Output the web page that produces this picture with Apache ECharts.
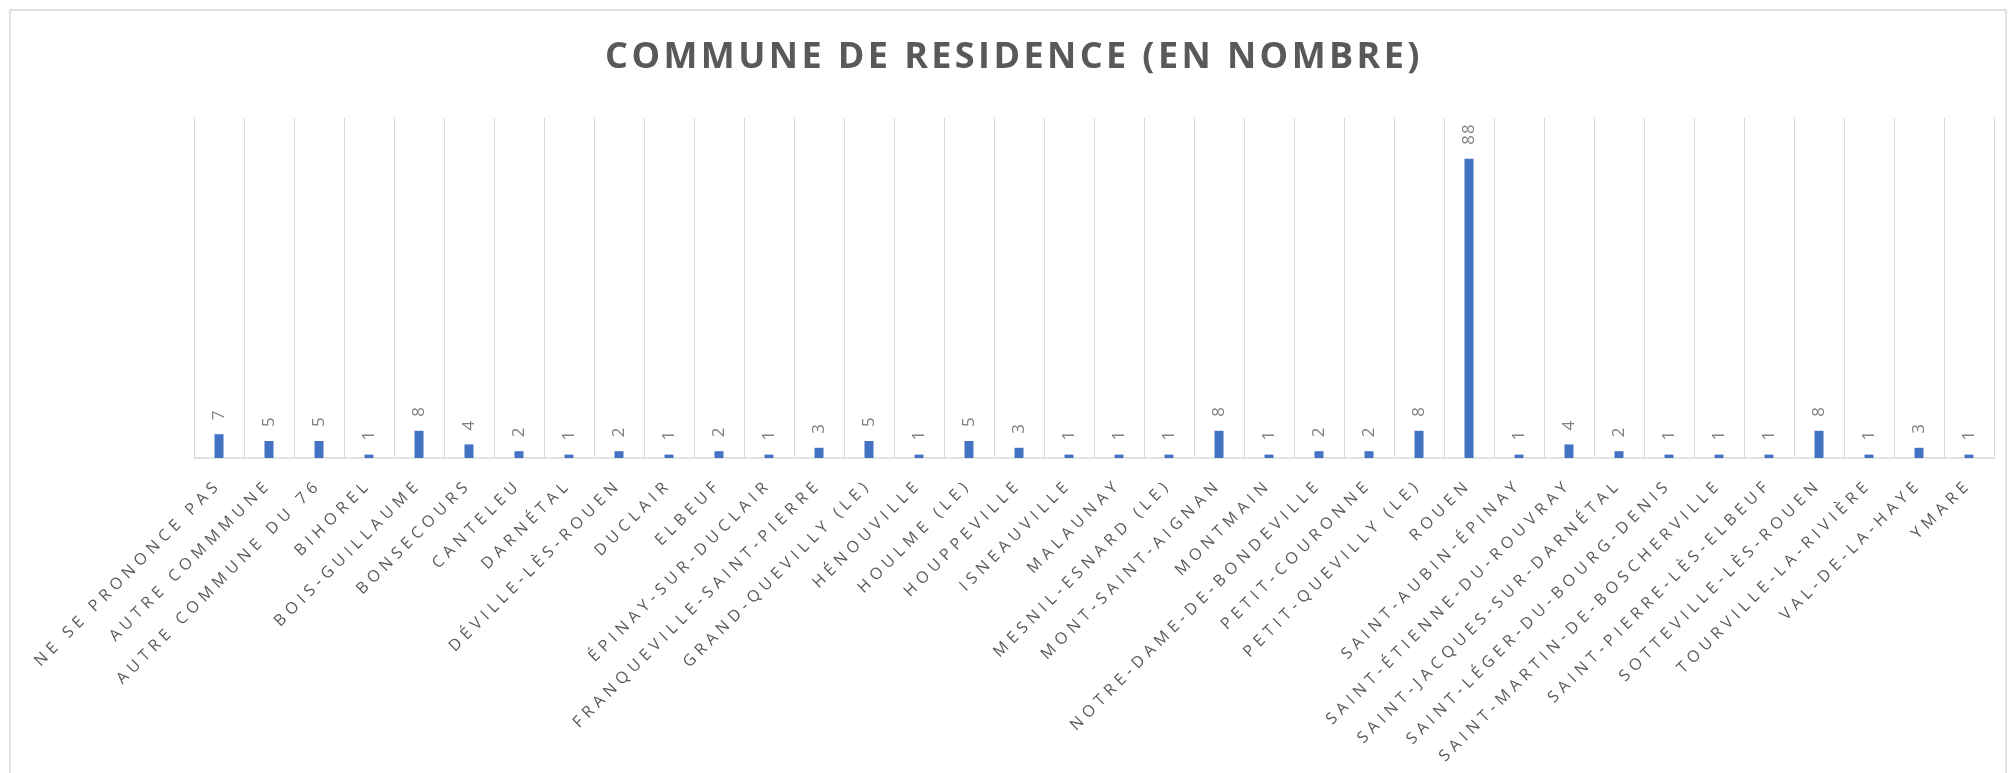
<!DOCTYPE html>
<html>
<head>
<meta charset="utf-8">
<title>Commune de residence</title>
<script src="https://cdn.jsdelivr.net/npm/echarts@6/dist/echarts.min.js"></script>
<style>
    html, body { margin: 0; padding: 0; background: #fff; }
    #chart { width: 2011px; height: 773px; }
</style>
</head>
<body>
<div id="chart"></div>
<script>
    // communes (texte tel qu'affiche, en capitales)
    var communes = [
        'NE SE PRONONCE PAS', 'AUTRE COMMMUNE', 'AUTRE COMMUNE DU 76', 'BIHOREL',
        'BOIS-GUILLAUME', 'BONSECOURS', 'CANTELEU', 'DARNÉTAL', 'DÉVILLE-LÈS-ROUEN',
        'DUCLAIR', 'ELBEUF', 'ÉPINAY-SUR-DUCLAIR', 'FRANQUEVILLE-SAINT-PIERRE',
        'GRAND-QUEVILLY (LE)', 'HÉNOUVILLE', 'HOULME (LE)', 'HOUPPEVILLE',
        'ISNEAUVILLE', 'MALAUNAY', 'MESNIL-ESNARD (LE)', 'MONT-SAINT-AIGNAN',
        'MONTMAIN', 'NOTRE-DAME-DE-BONDEVILLE', 'PETIT-COURONNE', 'PETIT-QUEVILLY (LE)',
        'ROUEN', 'SAINT-AUBIN-ÉPINAY', 'SAINT-ÉTIENNE-DU-ROUVRAY', 'SAINT-JACQUES-SUR-DARNÉTAL',
        'SAINT-LÉGER-DU-BOURG-DENIS', 'SAINT-MARTIN-DE-BOSCHERVILLE', 'SAINT-PIERRE-LÈS-ELBEUF',
        'SOTTEVILLE-LÈS-ROUEN', 'TOURVILLE-LA-RIVIÈRE', 'VAL-DE-LA-HAYE', 'YMARE'
    ];
    var nombre = [
        7, 5, 5, 1, 8, 4, 2, 1, 2, 1, 2, 1, 3, 5, 1, 5, 3, 1,
        1, 1, 8, 1, 2, 2, 8, 88, 1, 4, 2, 1, 1, 1, 8, 1, 3, 1
    ];
    var titre = 'COMMUNE DE RESIDENCE (EN NOMBRE)';

    var chart = echarts.init(document.getElementById('chart'), null, {renderer: 'canvas'});

    var option = {
        animation: false,
        backgroundColor: '#fff',
        graphic: [
            {
                type: 'rect',
                zlevel: 0,
                shape: {x: 10, y: 10, width: 1996, height: 800},
                style: {fill: 'none', stroke: '#d9d9d9', lineWidth: 1.5},
                silent: true
            },
            {
                type: 'text',
                zlevel: 2,
                x: 1014,
                y: 58,
                style: {
                    text: titre,
                    fill: '#595959',
                    font: 'bold 36px "Open Sans"',
                    align: 'center',
                    verticalAlign: 'middle'
                }
            }
        ],
        grid: {left: 194, right: 17, top: 118, bottom: 315, containLabel: false},
        xAxis: {
            type: 'category',
            data: communes,
            zlevel: 0,
            axisLine: {lineStyle: {color: '#d9d9d9', width: 1.5}},
            axisTick: {show: false},
            splitLine: {show: true, lineStyle: {color: '#d9d9d9', width: 1}},
            axisLabel: {
                interval: 0,
                rotate: 45,
                margin: 24,
                color: '#595959',
                fontFamily: 'Open Sans',
                fontSize: 16,
                hideOverlap: false
            }
        },
        yAxis: {
            type: 'value',
            min: 0,
            max: 100,
            zlevel: 0,
            show: false,
            splitLine: {show: false}
        },
        series: [{
            type: 'bar',
            zlevel: 1,
            data: nombre,
            barWidth: 9,
            itemStyle: {color: '#4472c4'},
            label: {
                show: true,
                position: 'top',
                rotate: 90,
                align: 'left',
                verticalAlign: 'middle',
                distance: 14,
                color: '#7f7f7f',
                fontFamily: 'Open Sans',
                fontSize: 17
            }
        }]
    };
    chart.setOption(option);

    // espacement des lettres comme dans Excel : par calque canvas
    var spacing = {zr_0: '5px', zr_1: '1px', zr_2: '3.4px'};
    document.querySelectorAll('#chart canvas').forEach(function (c) {
        var id = c.getAttribute('data-zr-dom-id');
        if (spacing[id]) {
            c.getContext('2d').letterSpacing = spacing[id];
        }
    });
    chart.getZr().painter.refresh(true);
</script>
</body>
</html>
